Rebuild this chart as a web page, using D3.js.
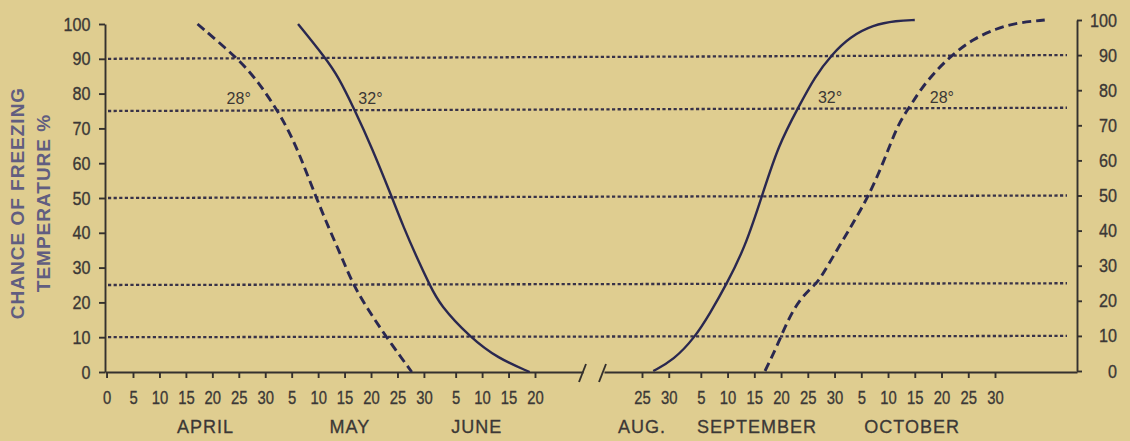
<!DOCTYPE html>
<html>
<head>
<meta charset="utf-8">
<script src="https://cdn.jsdelivr.net/npm/d3@7"></script>
<style>
  body { margin: 0; background: #dfcd90; }
  svg { display: block; }
  .tick text { fill: #3b3836; stroke: #3b3836; stroke-width: 0.35px; font-family: "Liberation Sans", Arial, sans-serif; font-size: 19px; }
  .axis path, .axis line { stroke: #35312e; stroke-width: 1.9; }
</style>
</head>
<body>
<div id="chart"></div>
<script>

// ---- data: [month, day (may be fractional), percent] ----
var spring28 = [[4,17.2,100],[4,24.9,90],[4,28.7,83.4],[5,2.6,74.5],[5,5.0,67.6],[5,6.9,60.9],
    [5,9.7,49.9],[5,11.9,41.8],[5,14.4,33.2],[5,16.7,24.8],[5,19.5,17.8],[5,22.9,10],[5,27.7,0]];
var spring32 = [[5,6.2,100],[5,11.3,90.4],[5,13.8,84.9],[5,16.9,75.3],[5,20.1,64.7],[5,23.9,50.4],
    [5,26.1,41.8],[5,28.6,33.1],[5,31.1,25],[6,2.0,19.3],[6,7.7,10],[6,13.0,3.9],[6,19.0,0]];
var fall32 = [[8,27.1,0],[8,30.9,3.1],[9,3.9,9.6],[9,6.7,16.4],[9,9.8,24.7],[9,13.3,35.4],[9,16.4,49.7],
    [9,19.5,64.4],[9,23.3,75.3],[9,26.3,83.8],[9,29.5,90.2],[10,2.9,95.2],[10,7.2,98.6],[10,11.6,99.8],[10,15.0,100]];
var fall28 = [[9,17.0,0],[9,19.2,6.9],[9,21.0,13.6],[9,23.5,20.7],[9,26.7,25],[9,27.9,27.8],[10,1.0,35.9],
    [10,3.8,43],[10,6.3,49.7],[10,9.1,59.2],[10,11.9,70.6],[10,14.1,75.3],[10,16.0,80.1],[10,19.1,85.8],
    [10,22.2,90.3],[10,25.9,94.6],[10,30.3,97.6],[11,3.0,99.2],[11,8.3,100]];

// probability levels (dotted lines) and y ticks
var levels = [90, 75, 50, 25, 10];
var yTicks = [0, 10, 20, 30, 40, 50, 60, 70, 80, 90, 100];

// bottom ticks: [month, day], and their labels
var leftTicks = [[3,31],[4,5],[4,10],[4,15],[4,20],[4,25],[4,30],[5,5],[5,10],[5,15],[5,20],[5,25],[5,30],
    [6,5],[6,10],[6,15],[6,20]];
var leftTickLabels = ["0","5","10","15","20","25","30","5","10","15","20","25","30","5","10","15","20"];
var rightTicks = [[8,25],[8,30],[9,5],[9,10],[9,15],[9,20],[9,25],[9,30],[10,5],[10,10],[10,15],[10,20],[10,25],[10,30]];
var rightTickLabels = ["25","30","5","10","15","20","25","30","5","10","15","20","25","30"];

// month names, anchored on a date
var leftMonths = [["APRIL",4,18.7],["MAY",5,16],["JUNE",6,9]];
var rightMonths = [["AUG.",8,25],["SEPTEMBER",9,15.5],["OCTOBER",10,14.5]];

// curve labels: [text, side, month, day, percent]
var curveLabels = [["28°","L",4,22.7,77],["32°","L",5,17.6,77],["32°","R",9,26.9,76.4],["28°","R",10,17.8,76.4]];


var toDate = function(m, d) { return new Date(Date.UTC(2001, m - 1, 0) + d * 864e5); };

var width = 1130, height = 441;

var svg = d3.select("#chart").append("svg")
    .attr("width", width)
    .attr("height", height);

// x scales: two pieces of the year, with a break between
var xL = d3.scaleUtc().domain([toDate(4,5), toDate(6,20)]).range([133, 535]);
xL.domain([xL.invert(105), xL.invert(583)]).range([105, 583]);

var xR = d3.scaleUtc().domain([toDate(8,25), toDate(10,30)]).range([642, 995]);
xR.domain([xR.invert(604), xR.invert(1077)]).range([604, 1077]);

var yL = d3.scaleLinear().domain([0, 100]).range([372, 24]);
var yR = d3.scaleLinear().domain([0, 100]).range([371, 20]);

// dotted probability lines (hand drawn: left end on left scale, right end on right scale)
svg.append("g").selectAll("line")
    .data(levels)
    .enter()
    .append("line")
    .attr("x1", 108)
    .attr("x2", 1067)
    .attr("y1", d => yL(d))
    .attr("y2", d => yR(d))
    .attr("stroke", "#383248")
    .attr("stroke-width", 2.3)
    .attr("stroke-dasharray", "3.2,2.4");

// axes
var leftAxis = svg.append("g")
    .attr("class", "axis")
    .attr("transform", "translate(105,0)")
    .call(d3.axisLeft(yL).tickValues(yTicks).tickSize(6).tickSizeOuter(0).tickPadding(11));
leftAxis.selectAll(".tick text").attr("transform", "scale(0.85,1)");

var rightAxis = svg.append("g")
    .attr("class", "axis")
    .attr("transform", "translate(1077,0)")
    .call(d3.axisRight(yR).tickValues(yTicks).tickSize(5).tickSizeOuter(0));
rightAxis.selectAll(".tick text")
    .attr("text-anchor", "end")
    .attr("x", 40 / 0.85)
    .attr("transform", "scale(0.85,1)");

var bottomL = svg.append("g")
    .attr("class", "axis")
    .attr("transform", "translate(0,372)")
    .call(d3.axisBottom(xL).tickValues(leftTicks.map(d => toDate(d[0], d[1])))
        .tickFormat((d, i) => leftTickLabels[i]).tickSize(6).tickSizeOuter(0).tickPadding(13));

var bottomR = svg.append("g")
    .attr("class", "axis")
    .attr("transform", "translate(0,372)")
    .call(d3.axisBottom(xR).tickValues(rightTicks.map(d => toDate(d[0], d[1])))
        .tickFormat((d, i) => rightTickLabels[i]).tickSize(6).tickSizeOuter(0).tickPadding(13));

bottomL.selectAll(".tick text").attr("transform", "scale(0.78,1)");
bottomR.selectAll(".tick text").attr("transform", "scale(0.78,1)");

// axis break marks
svg.append("g").selectAll("line")
    .data([xL.range()[1] - 0.5, xR.range()[0] - 1.5])
    .enter()
    .append("line")
    .attr("x1", d => d - 3.5)
    .attr("x2", d => d + 3.5)
    .attr("y1", 382)
    .attr("y2", 364)
    .attr("stroke", "#35312e")
    .attr("stroke-width", 1.9);

// month names
var monthText = function(data, x) {
    svg.append("g").selectAll("text")
        .data(data)
        .enter()
        .append("text")
        .attr("x", d => x(toDate(d[1], d[2])))
        .attr("y", 433)
        .attr("text-anchor", "middle")
        .style("font-family", "Liberation Sans, Arial, sans-serif")
        .style("font-size", "18px")
        .style("letter-spacing", "1px")
        .attr("fill", "#3b3836")
        .attr("stroke", "#3b3836")
        .attr("stroke-width", 0.3)
        .text(d => d[0]);
};
monthText(leftMonths, xL);
monthText(rightMonths, xR);

// curves
var lineL = d3.line().x(d => xL(toDate(d[0], d[1]))).y(d => yL(d[2])).curve(d3.curveBasis);
var lineR = d3.line().x(d => xR(toDate(d[0], d[1]))).y(d => yR(d[2])).curve(d3.curveBasis);

var curves = [
    {data: spring28, line: lineL, dash: "9,5", w: 2.9},
    {data: spring32, line: lineL, dash: null, w: 2.4},
    {data: fall32, line: lineR, dash: null, w: 2.4},
    {data: fall28, line: lineR, dash: "9,5", w: 2.9}
];

svg.append("g").selectAll("path")
    .data(curves)
    .enter()
    .append("path")
    .attr("d", d => d.line(d.data))
    .attr("fill", "none")
    .attr("stroke", "#2a2850")
    .attr("stroke-width", d => d.w)
    .attr("stroke-dasharray", d => d.dash);

// curve labels
svg.append("g").selectAll("text")
    .data(curveLabels)
    .enter()
    .append("text")
    .attr("x", d => (d[1] == "L" ? xL : xR)(toDate(d[2], d[3])))
    .attr("y", d => (d[1] == "L" ? yL : yR)(d[4]))
    .style("font-family", "Liberation Sans, Arial, sans-serif")
    .style("font-size", "16px")
    .attr("fill", "#3b3836")
    .text(d => d[0]);

// y axis title
var title = svg.append("g")
    .style("font-family", "Liberation Sans, Arial, sans-serif")
    .style("font-weight", "bold")
    .style("font-size", "19px")
    .style("letter-spacing", "1px")
    .attr("fill", "#615d80");

title.append("text")
    .attr("transform", "translate(17,203) rotate(-90)")
    .attr("text-anchor", "middle")
    .attr("dominant-baseline", "central")
    .text("CHANCE OF FREEZING");

title.append("text")
    .attr("transform", "translate(43,203) rotate(-90)")
    .attr("text-anchor", "middle")
    .attr("dominant-baseline", "central")
    .text("TEMPERATURE %");

</script>
</body>
</html>
